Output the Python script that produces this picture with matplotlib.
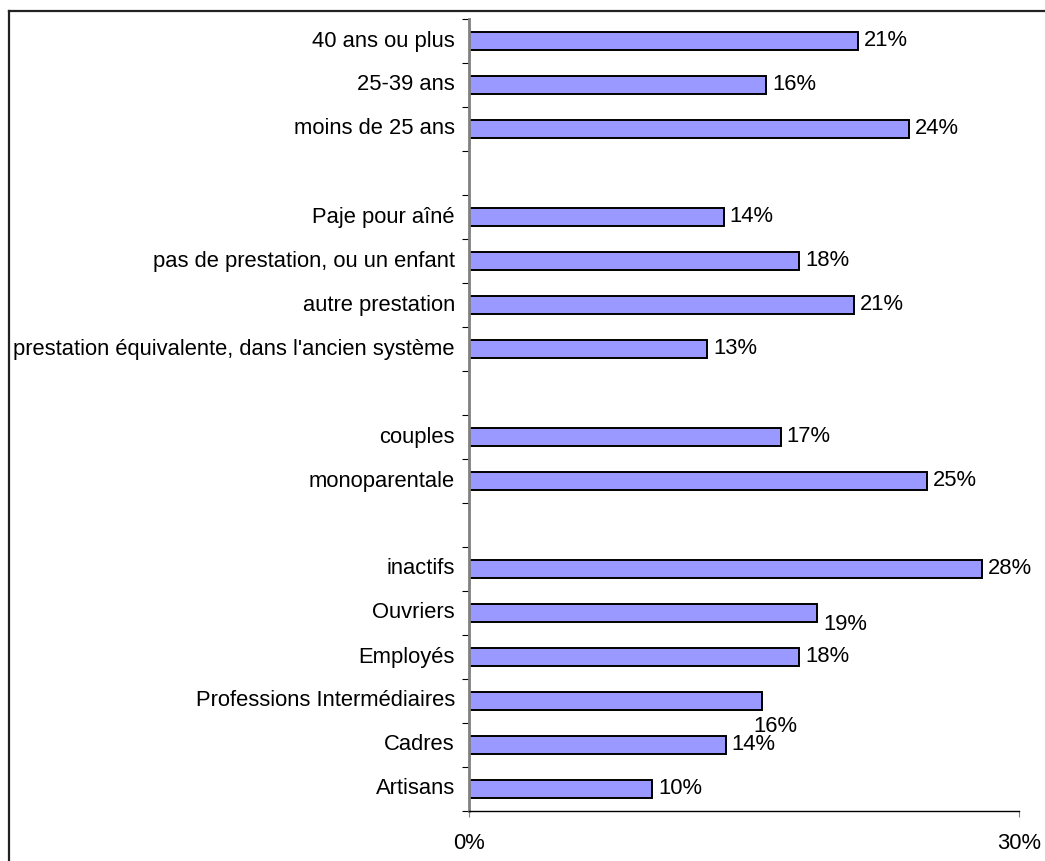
import numpy as np
import matplotlib.pyplot as plt
from matplotlib.lines import Line2D

plt.rcParams['font.family'] = ['Liberation Sans', 'DejaVu Sans']

# rows from top to bottom, None = blank separator row
labels = ['40 ans ou plus', '25-39 ans', 'moins de 25 ans', None,
          'Paje pour aîné', 'pas de prestation, ou un enfant', 'autre prestation',
          "prestation équivalente, dans l'ancien système", None,
          'couples', 'monoparentale', None,
          'inactifs', 'Ouvriers', 'Employés', 'Professions Intermédiaires',
          'Cadres', 'Artisans']
values = [21.2, 16.2, 24.0, None,
          13.9, 18.0, 21.0, 13.0, None,
          17.0, 25.0, None,
          28.0, 19.0, 18.0, 16.0, 14.0, 10.0]
value_text = ['21%', '16%', '24%', None,
              '14%', '18%', '21%', '13%', None,
              '17%', '25%', None,
              '28%', '19%', '18%', '16%', '14%', '10%']

n = len(labels)
ypos = np.arange(n)[::-1]
fs = 15.8

fig = plt.figure(figsize=(10.45, 8.61), dpi=100)
ax = fig.add_axes([469 / 1045, 1 - 811 / 861, 550 / 1045, 792 / 861])

for y, lab, v, t in zip(ypos, labels, values, value_text):
    if v is None:
        continue
    ax.barh(y, v, height=0.43, color='#9999FF', edgecolor='black', linewidth=1.4)
    ax.text(-14 / 18.33, y, lab, ha='right', va='center', fontsize=fs)
    dx, dy = 6, 0
    if lab == 'Ouvriers':
        dy = -11
    if lab == 'Professions Intermédiaires':
        dx, dy = -9, -26
    ax.annotate(t, (v, y), xytext=(dx, dy), textcoords='offset pixels',
                ha='left', va='center', fontsize=fs)

ax.set_xlim(0, 30)
ax.set_ylim(-0.5, n - 0.5)
ax.set_xticks([0, 30])
ax.set_xticklabels(['0%', '30%'], fontsize=fs)
ax.tick_params(axis='x', direction='out', length=4, pad=12, color='gray')
ax.set_yticks(np.arange(-0.5, n, 1.0))
ax.set_yticklabels([])
ax.tick_params(axis='y', direction='out', length=5, color='black')

ax.spines['top'].set_visible(False)
ax.spines['right'].set_visible(False)
ax.spines['left'].set_color('gray')
ax.spines['left'].set_linewidth(2)
ax.spines['bottom'].set_linewidth(1)

# outer frame (top and left edges visible)
fig.add_artist(Line2D([8.5 / 1045, 1], [1 - 11 / 861] * 2, color='#222222', lw=1.6))
fig.add_artist(Line2D([8.5 / 1045] * 2, [0, 1 - 11 / 861], color='#222222', lw=1.6))

fig.savefig('out.png', dpi=100)
